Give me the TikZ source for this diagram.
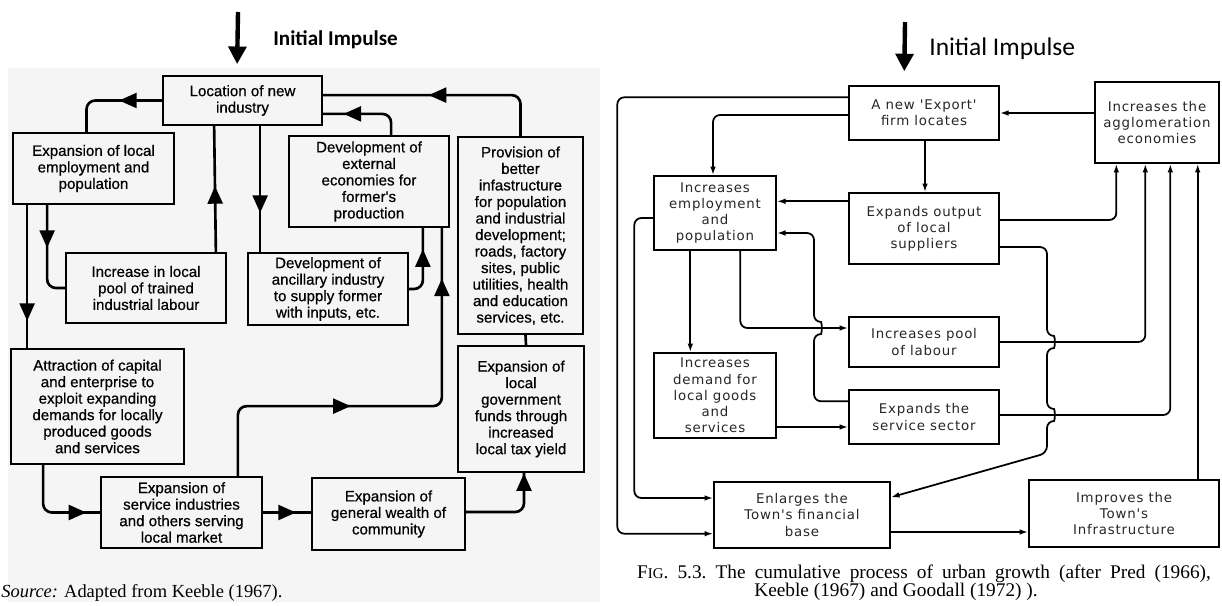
\documentclass[tikz,border=0pt]{standalone}
\usepackage{fontspec}
\setmainfont{Liberation Serif}
\newfontfamily\boxfont{Liberation Sans}[FakeBold=0.6]
\newfontfamily\letterfont{DejaVu Sans}[LetterSpace=6]
\newfontfamily\headfont{Carlito}
\usetikzlibrary{arrows.meta,decorations.markings,calc}

\begin{document}
\begin{tikzpicture}[x=0.02cm,y=-0.02cm,
		wh/.style 2 args={minimum width=#1*0.02cm,minimum height=#2*0.02cm},
		lbox/.style={draw,line width=1pt,align=center,inner sep=0pt,font=\boxfont\fontsize{8.6}{9.4}\selectfont},
		rbox/.style={draw,line width=0.8pt,align=center,inner sep=0pt,text=black!85,font=\letterfont\fontsize{7.6}{9.2}\selectfont},
		lline/.style={line width=1.5pt,rounded corners=5pt},
		rline/.style={line width=1pt,rounded corners=4pt,-{Latex[length=5pt,width=3.2pt]}},
		tri at/.style={postaction={decorate,decoration={markings,mark=at position #1*0.02cm with {\arrow{Triangle[length=10pt,width=8.5pt]}}}}},
		impulse/.style={line width=2.5pt,-{Triangle[length=10pt,width=10pt]}}]
		
		\useasboundingbox (0,0) rectangle (1222,605);
		\fill[black!4] (8,68) rectangle (600,602);
		
		% left scheme
		\node[lbox,wh={159}{49}] (loc) at (242.5,100.5) {Location of new\\industry};
		\node[lbox,wh={161}{71}] (emp) at (93.5,168.5) {Expansion of local\\employment and\\population};
		\node[lbox,wh={160}{91}] (ext) at (369,181.5) {Development of\\external\\economies for\\former's\\production};
		\node[lbox,wh={125}{197}] (prov) at (520.5,235.5) {Provision of\\better\\infastructure\\for population\\and industrial\\development;\\roads, factory\\sites, public\\utilities, health\\and education\\services, etc.};
		\node[lbox,wh={160}{70}] (pool) at (146,288) {Increase in local\\pool of trained\\industrial labour};
		\node[lbox,wh={160}{72}] (anc) at (328,289) {Development of\\ancillary industry\\to supply former\\with inputs, etc.};
		\node[lbox,wh={126}{126}] (gov) at (521,409) {Expansion of\\local\\government\\funds through\\increased\\local tax yield};
		\node[lbox,wh={173}{115}] (attr) at (97.5,406.5) {Attraction of capital\\and enterprise to\\exploit expanding\\demands for locally\\produced goods\\and services};
		\node[lbox,wh={161}{71}] (serv) at (181.5,512.5) {Expansion of\\service industries\\and others serving\\local market};
		\node[lbox,wh={153}{72}] (wealth) at (388.5,514) {Expansion of\\general wealth of\\community};
		
		\coordinate (impL) at (238,12);
		\draw[impulse] (impL) -- ($(loc.north west)+(75,-11)$);
		\node[anchor=west,inner sep=0pt,font=\headfont\bfseries\fontsize{12}{14}\selectfont] (impLtxt) at (273,40) {Initial Impulse};
		
		\draw[lline,tri at=43] (loc.west) -| ($(emp.north)+(-7,0)$);
		\draw[lline,tri at=116] ($(emp.south west)+(15,0)$) -- ($(attr.north west)+(17,0)$);
		\draw[lline,tri at=43] ($(emp.south west)+(35,0)$) |- (pool.west);
		\draw[lline,tri at=66] ($(pool.north east)+(-11,0)$) -- ($(loc.south west)+(52,0)$);
		\draw[lline,tri at=87] ($(loc.south west)+(98,0)$) -- ($(anc.north west)+(13,0)$);
		\draw[lline,tri at=50] (anc.east) -| ($(ext.south east)+(-27,0)$);
		\draw[lline,tri at=179,tri at=394] ($(serv.north east)+(-25,0)$) -- ++(0,-70) -| ($(ext.south east)+(-8,0)$);
		\draw[lline,tri at=65] ($(ext.north west)+(103,0)$) |- ($(loc.south east)+(0,-12)$);
		\draw[lline,tri at=129] (prov.north) |- ($(loc.north east)+(0,20)$);
		\draw[lline] ($(prov.south)+(5,0)$) -- ($(gov.north)+(5,0)$);
		\draw[lline,tri at=87] ($(attr.south west)+(33,0)$) |- (serv.west);
		\draw[lline,tri at=33] (serv.east) -- (serv.east -| wealth.west);
		\draw[lline,tri at=93] ($(wealth.east)+(0,-2)$) -| ($(gov.south)+(3,0)$);
		
		\node[anchor=west,inner sep=0pt,font=\fontsize{10.5}{12}\selectfont] (src) at (1,593) {\textit{Source:} Adapted from Keeble (1967).};
		
		% right scheme
		\node[rbox,wh={150}{54}] (exp) at (924,113) {A new 'Export'\\firm locates};
		\node[rbox,wh={124}{81}] (agg) at (1157,122.5) {Increases the\\agglomeration\\economies};
		\node[rbox,wh={122}{74}] (jobs) at (715,213) {Increases\\employment\\and\\population};
		\node[rbox,wh={150}{71}] (out) at (924,228.5) {Expands output\\of local\\suppliers};
		\node[rbox,wh={150}{50}] (labour) at (924,342) {Increases pool\\of labour};
		\node[rbox,wh={122}{85}] (dem) at (715,395.5) {Increases\\demand for\\local goods\\and\\services};
		\node[rbox,wh={150}{54}] (sector) at (924,417) {Expands the\\service sector};
		\node[rbox,wh={176}{66}] (fin) at (802,515) {Enlarges the\\Town's financial\\base};
		\node[rbox,wh={190}{67}] (infra) at (1124,513.5) {Improves the\\Town's\\Infrastructure};
		
		\coordinate (impR) at (905,22);
		\draw[impulse] (impR) -- ($(exp.north west)+(56,-14)$);
		\node[anchor=west,inner sep=0pt,font=\headfont\fontsize{14.5}{16}\selectfont] (impRtxt) at (929,49) {Initial Impulse};
		
		\draw[rline] (exp.east -| agg.west) -- (exp.east);
		\draw[rline] ($(exp.south)+(1,0)$) -- ($(out.north)+(1,0)$);
		\draw[rline] ($(exp.west)+(0,2)$) -| ($(jobs.north)+(-2,0)$);
		\draw[rline] ($(exp.north west)+(0,12)$) -- ++(-231,0) |- ($(fin.south west)+(0,-15)$);
		\draw[rline] ($(out.north west)+(0,9)$) -- ($(jobs.north east)+(0,26)$);
		\draw[rline] ($(jobs.west)+(0,5)$) -- ++(-19,0) |- ($(fin.west)+(0,-17)$);
		\draw[rline] ($(jobs.south west)+(37,0)$) -- ($(dem.north west)+(37,0)$);
		\draw[rline] ($(jobs.south west)+(87,0)$) |- ($(labour.west)+(0,-14)$);
		\draw[rline] ($(sector.north west)+(0,12)$) -| (814,334) .. controls (822,334) and (822,322) .. (814,322) |- ($(jobs.east)+(0,20)$);
		\draw[rline] ($(dem.east)+(0,31.5)$) -- ($(sector.west)+(0,10)$);
		\draw[rline] ($(out.east)+(0,-8.5)$) -| ($(agg.south west)+(22,0)$);
		\draw[rline] (labour.east) -| ($(agg.south west)+(51,0)$);
		\draw[rline] ($(sector.east)+(0,-2)$) -| ($(agg.south west)+(76,0)$);
		\draw[rline] ($(out.east)+(0,18.5)$) -| (1047,336) .. controls (1055,336) and (1055,348) .. (1047,348)
			-- (1047,409) .. controls (1055,409) and (1055,421) .. (1047,421) -- (1047,453) -- ($(fin.north east)+(0,16)$);
		\draw[rline] ($(infra.north east)+(-22,0)$) -- ($(agg.south east)+(-22,0)$);
		\draw[rline] ($(fin.east)+(0,17)$) -- ($(infra.west)+(0,18.5)$);
		
		\node[inner sep=0pt,font=\frenchspacing\fontsize{11}{12}\selectfont] (cap1) at (924,574) {\makebox[11.48cm][s]{F{\fontsize{8.5}{8}\selectfont IG}. 5.3. The cumulative process of urban growth (after Pred (1966),}};
		\node[inner sep=0pt,font=\frenchspacing\fontsize{11}{12}\selectfont] (cap2) at (896,592) {Keeble (1967) and Goodall (1972) ).};
		
	\end{tikzpicture}
\end{document}
